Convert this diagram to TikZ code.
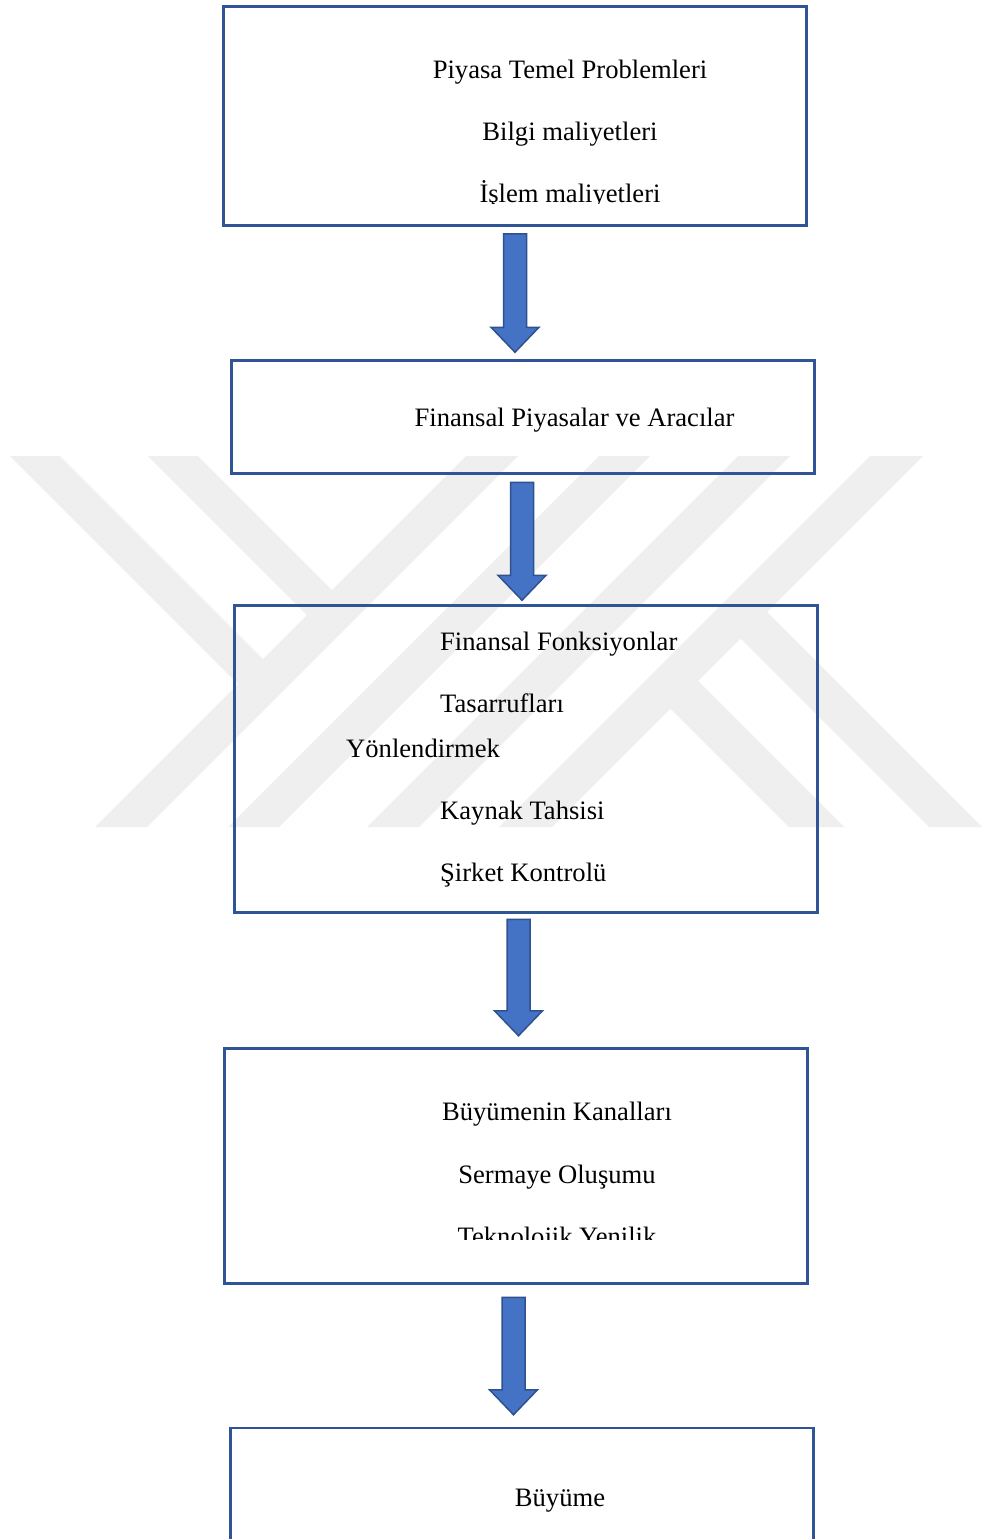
\documentclass[tikz,border=0pt]{standalone}
\usepackage{fontspec}
\setmainfont{Liberation Serif}
\usetikzlibrary{calc}

\definecolor{boxedge}{HTML}{2F5597}
\definecolor{arrowblue}{HTML}{4472C4}
\definecolor{arrowedge}{HTML}{2F528F}
\definecolor{wmgray}{HTML}{EFEFEF}

% block arrow pointing down from #1 (top centre) to #2 (tip)
\newcommand\blockarrow[2]{%
  \draw[barrow] ($(#1)+(-11.5,0)$) -- ($(#1)+(11.5,0)$)
    -- ($(#2)+(11.5,-25)$) -- ($(#2)+(24,-25)$) -- (#2)
    -- ($(#2)+(-24,-25)$) -- ($(#2)+(-11.5,-25)$) -- cycle;}

\begin{document}
\begin{tikzpicture}[x=1pt, y=-1pt,
  flowbox/.style={draw=boxedge, line width=2.5pt, rectangle, inner sep=0pt},
  barrow/.style={fill=arrowblue, draw=arrowedge, line width=1.5pt, line join=miter},
  label/.style={font=\fontsize{26.6pt}{30pt}\selectfont, inner sep=0pt, anchor=base},
  leftlabel/.style={label, anchor=base west},
  wm/.style={fill=wmgray, draw=none}]

\useasboundingbox (0,0) rectangle (983,1539);
\clip (0,0) rectangle (983,1539);
\fill[white] (0,0) rectangle (983,1539);

% faint diagonal watermark bands
\path[wm] (10,456) -- (60,456) -- (276,672) -- (251,697) -- cycle;
\path[wm] (148,456) -- (198,456) -- (345,603) -- (320,628) -- cycle;
\path[wm] (466,456) -- (518,456) -- (147,827) -- (95,827) -- cycle;
\path[wm] (599,456) -- (650,456) -- (279,827) -- (228,827) -- cycle;
\path[wm] (738,456) -- (790,456) -- (419,827) -- (367,827) -- cycle;
\path[wm] (870,456) -- (923,456) -- (552,827) -- (499,827) -- cycle;
\path[wm] (657,695) -- (684.5,667.5) -- (844,827) -- (789,827) -- cycle;
\path[wm] (727,625) -- (753.5,598.5) -- (982,827) -- (929,827) -- cycle;

% boxes
\node[flowbox, minimum width=583pt, minimum height=219pt] (b1) at (515,116) {};
\node[flowbox, minimum width=583pt, minimum height=113pt] (b2) at (523,417) {};
\node[flowbox, minimum width=583pt, minimum height=307pt] (b3) at (526,759) {};
\node[flowbox, minimum width=583pt, minimum height=235pt] (b4) at (516,1166) {};
\node[flowbox, minimum width=583pt, minimum height=240pt] (b5) at (522,1548) {};

% arrows between the boxes
\coordinate (a1s) at ($(b1.south)+(0,7)$);
\coordinate (a1e) at ($(a1s |- b2.north)+(0,-7)$);
\coordinate (a2s) at ($(b2.south)+(-1,7.5)$);
\coordinate (a2e) at ($(a2s |- b3.north)+(0,-4)$);
\coordinate (a3s) at ($(b3.south)+(-7.5,5.5)$);
\coordinate (a3e) at ($(a3s |- b4.north)+(0,-11.5)$);
\coordinate (a4s) at ($(b4.south)+(-2.5,12.5)$);
\coordinate (a4e) at ($(a4s |- b5.north)+(0,-12)$);
\blockarrow{a1s}{a1e}
\blockarrow{a2s}{a2e}
\blockarrow{a3s}{a3e}
\blockarrow{a4s}{a4e}

% texts
\node[label] (t1a) at (570,78.5) {Piyasa Temel Problemleri};
\node[label] (t1b) at (570,140.5) {Bilgi maliyetleri};
\begin{scope}
  \clip (0,0) rectangle (983,203);
  \node[label] (t1c) at (570,202) {İşlem maliyetleri};
\end{scope}

\node[label] (t2) at (574.5,426) {Finansal Piyasalar ve Aracılar};

\node[leftlabel] (t3a) at (440,650) {Finansal Fonksiyonlar};
\node[leftlabel] (t3b) at (440,712) {Tasarrufları};
\node[leftlabel] (t3c) at (346,757) {Yönlendirmek};
\node[leftlabel] (t3d) at (440,819) {Kaynak Tahsisi};
\node[leftlabel] (t3e) at (440,881) {Şirket Kontrolü};

\node[label] (t4a) at (557,1120) {Büyümenin Kanalları};
\node[label] (t4b) at (557,1183) {Sermaye Oluşumu};
\begin{scope}
  \clip (0,0) rectangle (983,1239.5);
  \node[label] (t4c) at (557,1245) {Teknolojik Yenilik};
\end{scope}

\node[label] (t5) at (560,1506) {Büyüme};
\end{tikzpicture}
\end{document}
